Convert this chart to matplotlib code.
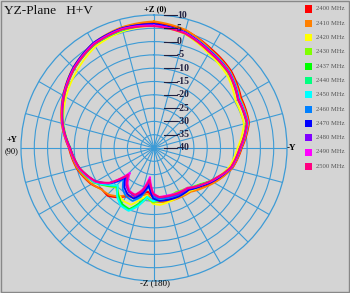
import numpy as np
import matplotlib
matplotlib.use("Agg")
import matplotlib.pyplot as plt
from matplotlib.patches import Rectangle

W, H = 350, 293

# angles in degrees, counter-clockwise from +Z (top)
angles = [0, 15, 30, 45, 60, 75, 90, 105, 120, 128, 136, 143, 150, 158, 165,
          172, 179, 186, 196, 207, 220, 232, 244, 256, 270, 285, 300, 315, 330, 345]

freqs = ["2400 MHz", "2410 MHz", "2420 MHz", "2430 MHz", "2437 MHz", "2440 MHz",
         "2450 MHz", "2460 MHz", "2470 MHz", "2480 MHz", "2490 MHz", "2500 MHz"]
colors = ["#ff0000", "#ff8000", "#ffff00", "#80ff00", "#00ff00", "#00ff80",
          "#00ffff", "#0080ff", "#0000ff", "#8000ff", "#ff00ff", "#ff0080"]

g2400 = [7.0, 6.8, 5.4, 2.8, -0.6, -4.2, -8.0, -10.0, -12.8, -15.0, -15.0, -16.8, -19.0, -20.5, -22.0,
         -23.5, -21.5, -20.5, -19.8, -19.5, -19.0, -16.5, -13.0, -9.5, -7.0, -3.0, -2.2, 1.0, 3.0, 5.8]
g2410 = [7.6, 7.0, 5.6, 2.9, -0.5, -4.0, -8.2, -10.2, -13.0, -14.8, -15.6, -17.3, -19.5, -20.0, -21.5,
         -22.5, -20.0, -19.5, -19.2, -19.0, -18.5, -16.0, -12.8, -9.6, -7.2, -3.2, -2.6, 0.6, 2.6, 6.0]
g2420 = [6.0, 5.4, 4.0, 1.0, -1.8, -4.8, -8.6, -11.0, -14.5, -17.5, -20.0, -18.0, -17.0, -17.0, -20.0,
         -22.0, -19.0, -18.5, -19.0, -19.5, -19.0, -17.0, -14.0, -10.8, -8.6, -5.0, -4.6, -1.2, 1.0, 4.4]
g2430 = [6.2, 5.8, 4.8, 2.2, -1.0, -4.5, -8.4, -10.6, -14.0, -17.0, -19.5, -17.5, -15.5, -15.0, -18.0,
         -21.0, -19.5, -20.0, -21.0, -21.5, -20.5, -18.0, -14.2, -10.2, -7.8, -4.0, -3.6, -0.4, 1.6, 4.6]
g2437 = [6.3, 5.9, 4.9, 2.3, -1.0, -4.5, -8.5, -10.7, -14.2, -17.2, -20.0, -17.8, -15.8, -15.2, -18.5,
         -21.5, -20.0, -20.5, -21.0, -21.0, -20.2, -17.8, -14.0, -10.0, -7.7, -3.9, -3.4, -0.2, 1.8, 4.8]
g2440 = [6.3, 6.0, 5.0, 2.3, -0.9, -4.6, -8.5, -10.8, -14.3, -17.4, -20.2, -17.2, -15.2, -14.8, -18.0,
         -21.2, -20.2, -20.8, -21.2, -21.0, -20.0, -17.6, -14.0, -10.0, -7.6, -3.6, -3.1, 0.2, 2.1, 4.9]
g2450 = [6.4, 6.0, 5.0, 2.4, -0.9, -4.6, -8.6, -10.8, -14.2, -17.5, -20.5, -17.0, -15.0, -14.5, -17.5,
         -21.5, -20.0, -20.5, -21.0, -21.0, -20.0, -17.6, -14.0, -10.0, -7.6, -3.5, -3.0, 0.3, 2.2, 5.0]
g2460 = [6.5, 6.4, 5.4, 2.6, -0.8, -4.4, -8.4, -10.8, -14.6, -18.2, -23.5, -20.5, -19.0, -18.5, -21.0,
         -25.5, -21.5, -20.8, -20.5, -20.2, -19.8, -17.2, -13.8, -10.0, -7.5, -3.6, -3.2, 0.2, 2.1, 5.0]
g2470 = [6.6, 6.6, 5.6, 2.8, -0.7, -4.4, -8.5, -11.0, -14.8, -18.5, -24.5, -21.5, -20.0, -19.5, -22.0,
         -26.0, -21.0, -20.0, -19.8, -19.5, -19.5, -17.0, -13.6, -10.0, -7.6, -3.8, -3.4, 0.0, 2.0, 5.0]
g2480 = [6.2, 6.4, 5.4, 2.6, -0.8, -4.3, -8.3, -10.8, -14.7, -18.6, -25.5, -22.5, -21.0, -20.5, -23.0,
         -27.5, -22.5, -21.2, -21.0, -20.5, -20.0, -17.4, -13.9, -10.0, -7.6, -3.7, -3.4, 0.0, 1.9, 4.9]
g2490 = [6.0, 6.3, 5.2, 2.5, -0.8, -4.3, -8.3, -10.8, -14.6, -18.5, -27.0, -23.5, -21.5, -21.0, -24.0,
         -29.0, -23.0, -21.5, -21.5, -21.0, -20.5, -17.5, -14.0, -10.0, -7.6, -3.7, -3.4, 0.0, 1.8, 4.8]
g2500 = [5.8, 6.1, 5.0, 2.3, -1.0, -4.5, -8.5, -11.0, -14.8, -18.8, -26.0, -23.0, -21.2, -21.0, -23.5,
         -28.0, -22.8, -21.5, -21.2, -20.8, -20.3, -17.6, -14.2, -10.2, -7.8, -3.9, -3.6, -0.2, 1.6, 4.6]

series = [g2400, g2410, g2420, g2430, g2437, g2440, g2450, g2460, g2470, g2480, g2490, g2500]

rings = [-35, -30, -25, -20, -15, -10, -5, 0, 5]
ring_labels = ["10", "5", "0", "-5", "-10", "-15", "-20", "-25", "-30", "-35", "-40"]

bg = "#d4d4d4"
grid_c = "#3d9bd6"
serif = "Liberation Serif"

fig = plt.figure(figsize=(W / 100, H / 100), dpi=100, facecolor=bg)
fig.patches.append(Rectangle((0.003, 0.004), 0.994, 0.992, transform=fig.transFigure,
                             fill=False, edgecolor="#888888", lw=1.0))

cx, cy, R = 154, 148, 133
ax = fig.add_axes([(cx - R) / W, 1 - (cy + R) / H, 2 * R / W, 2 * R / H], projection="polar")
ax.set_facecolor("none")
ax.set_theta_zero_location("N")
ax.set_theta_direction(1)
ax.set_ylim(-40, 10)
ax.set_yticks(rings)
ax.set_yticklabels([])
ax.set_xticks(np.deg2rad(np.arange(0, 360, 15)))
ax.set_xticklabels([])
ax.grid(True, color=grid_c, lw=0.8)
ax.spines["polar"].set_color(grid_c)
ax.spines["polar"].set_linewidth(0.9)
ax.tick_params(length=0)

th = np.deg2rad(angles + [360])
for vals, c in zip(series, colors):
    ln, = ax.plot(th, vals + [vals[0]], color=c, lw=1.3, solid_joinstyle="round")
    # let the polar transform draw each segment as an arc-like curve
    ln.get_path()._interpolation_steps = 20


def px(x, y):
    return x / W, 1 - y / H


# radial scale labels with leader ticks
for i, lab in enumerate(ring_labels):
    y = 15 + i * 13.3
    x0, y0 = px(164, y)
    x1, _ = px(177, y)
    fig.add_artist(plt.Line2D([x0, x1], [y0, y0], color="#202040", lw=0.8))
    fig.text(*px(177, y), lab, fontsize=7, fontweight="bold", family=serif,
             color="#202040", ha="left", va="center")

fig.text(*px(4, 11), "YZ-Plane   H+V", fontsize=9.6, family=serif, color="#111111",
         ha="left", va="center")
fig.text(*px(155, 9), "+Z (0)", fontsize=6, fontweight="bold", family=serif, ha="center", va="center")
fig.text(*px(155, 283), "-Z (180)", fontsize=6.5, family=serif, ha="center", va="center")
fig.text(*px(12, 140), "+Y", fontsize=6, fontweight="bold", family=serif, ha="center", va="center")
fig.text(*px(12, 151), "(90)", fontsize=6, family=serif, ha="center", va="center")
fig.text(*px(291, 148), "-Y", fontsize=6.5, fontweight="bold", family=serif, ha="center", va="center")

# legend
for i, (f, c) in enumerate(zip(freqs, colors)):
    y = 9 + i * 14.3
    x0, y0 = px(305, y + 3.5)
    fig.patches.append(Rectangle((x0, y0), 7 / W, 7 / H, transform=fig.transFigure,
                                 facecolor=c, edgecolor="none"))
    fig.text(*px(316, y), f, fontsize=4.8, family=serif, color="#555555", ha="left", va="center")

fig.savefig("out.png", dpi=100, facecolor=bg)
